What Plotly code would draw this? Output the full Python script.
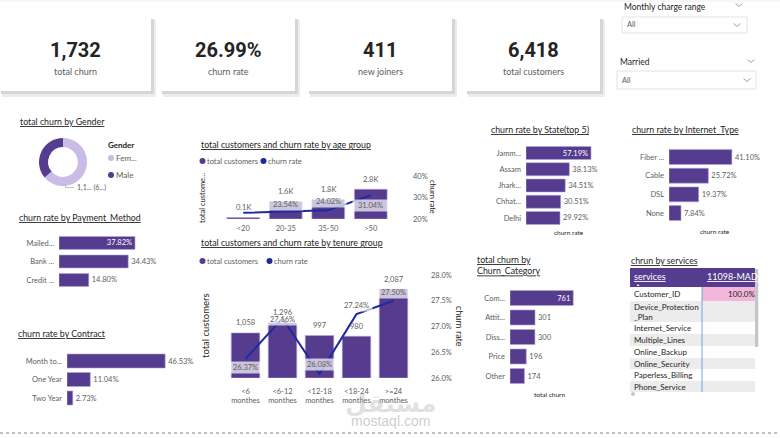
import plotly.graph_objects as go

# ---------------- data ----------------
kpi_values = ["1,732", "26.99%", "411", "6,418"]
kpi_labels = ["total churn", "churn rate", "new joiners", "total customers"]

gender_labels = ["Female", "Male"]
gender_legend = ["Fem...", "Male"]
gender_churn = [1106, 626]

age_groups = ["<20", "20-35", "35-50", ">50"]
age_customers = [140, 1640, 1840, 2798]
age_churn_rate = [22.86, 23.54, 24.02, 31.04]
age_rate_ticks = [20, 30, 40]

tenure_groups = ["<6", "<6-12", "<12-18", "<18-24", ">=24"]
tenure_tick_labels = ["<6<br>monthes", "<6-12<br>monthes", "<12-18<br>monthes",
                      "<18-24<br>monthes", ">=24<br>monthes"]
tenure_customers = [1058, 1296, 997, 980, 2087]
tenure_churn_rate = [26.37, 27.16, 26.08, 27.24, 27.50]
tenure_rate_ticks = [26.0, 26.5, 27.0, 27.5, 28.0]

pay_methods = ["Mailed...", "Bank ...", "Credit ..."]
pay_rate = [37.82, 34.43, 14.80]

contracts = ["Month to...", "One Year", "Two Year"]
contract_rate = [46.53, 11.04, 2.73]

states = ["Jamm...", "Assam", "Jhark...", "Chhat...", "Delhi"]
state_rate = [57.19, 38.13, 34.51, 30.51, 29.92]

internet_types = ["Fiber ...", "Cable", "DSL", "None"]
internet_rate = [41.10, 25.72, 19.37, 7.84]

churn_categories = ["Com...", "Attit...", "Diss...", "Price", "Other"]
churn_category_total = [761, 301, 300, 196, 174]

services = ["Customer_ID", "Device_Protection<br>_Plan", "Internet_Service", "Multiple_Lines",
            "Online_Backup", "Online_Security", "Paperless_Billing", "Phone_Service"]
service_values = ["100.0%", "", "", "", "", "", "", ""]
service_column = "11098-MAD"

# ---------------- helpers ----------------
W, H = 780, 438
def X(px): return px / W
def Y(py): return 1 - py / H

PURPLE = "#553c8f"
LAVENDER = "#c9bce6"
LINE_BLUE = "#1f2a9e"
DARK = "#252423"
GREY = "#605e5c"
FONT = "Segoe UI, Lato, Noto Sans, sans-serif"
NUM_FONT = "Roboto, sans-serif"

fig = go.Figure()
shapes, annotations, axes = [], [], {}

def rect(x0, y0, x1, y1, fill, line=None, lw=0):
    shapes.append(dict(type="rect", xref="paper", yref="paper", x0=X(x0), x1=X(x1),
                       y0=Y(y1), y1=Y(y0), fillcolor=fill,
                       line=dict(color=line or fill, width=lw), layer="below"))

def seg(pts, color, width=1, dash="solid"):
    path = "M " + " L ".join(f"{X(a)},{Y(b)}" for a, b in pts)
    shapes.append(dict(type="path", xref="paper", yref="paper", path=path,
                       line=dict(color=color, width=width, dash=dash)))

def dot(px, py, r, color):
    shapes.append(dict(type="circle", xref="paper", yref="paper", x0=X(px - r), x1=X(px + r),
                       y0=Y(py + r), y1=Y(py - r), fillcolor=color, line=dict(width=0)))

def txt(px, py, s, size=8, color=DARK, xa="left", ya="middle", family=FONT, **kw):
    annotations.append(dict(xref="paper", yref="paper", x=X(px), y=Y(py), text=s,
                            showarrow=False, xanchor=xa, yanchor=ya,
                            font=dict(size=size, color=color, family=family), **kw))

def chev(px, py, color="#a19f9d"):
    seg([(px - 3.5, py - 1.5), (px, py + 1.5), (px + 3.5, py - 1.5)], color, 1)

def ax(name, idx):
    return name if idx == 1 else f"{name}{idx}"

TITLE = 8.8

# ---------------- page decorations ----------------
seg([(0, 1), (780, 1)], "#eeeeee", 1)
seg([(0, 433), (780, 433)], "#808080", 1, "dot")

# KPI cards
card_boxes = [(0, 17, 151, 91), (161, 17, 295, 91), (308, 17, 452, 91), (466, 17, 600, 91)]
for (x0, y0, x1, y1), v, lab in zip(card_boxes, kpi_values, kpi_labels):
    rect(x0 + 2, y0 + 3, x1 + 5, y1 + 6, "#ececec")
    rect(x0 + 1, y0 + 2, x1 + 3, y1 + 3, "#d6d6d6")
    rect(x0, y0, x1, y1, "white")
    cx = (x0 + x1) / 2
    txt(cx, 50, f"<b>{v}</b>", size=20, family=NUM_FONT, xa="center")
    txt(cx, 71, lab, size=9, color=GREY, xa="center")

# slicers
txt(622, 7, "Monthly charge range", size=8.5)
chev(739, 5)
rect(622, 17, 747, 33, "white", line="#e3e3e3", lw=1)
txt(625, 25, "All", size=7.5, color=GREY)
chev(737, 25)
txt(618, 62, "Married", size=8.5)
chev(751, 61)
rect(617, 71, 756, 89, "white", line="#e3e3e3", lw=1)
txt(620, 80, "All", size=7.5, color=GREY)
chev(747, 80)

# ---------------- gender donut ----------------
txt(18, 122, "<u>total churn by Gender</u>", size=TITLE)
fig.add_trace(go.Pie(values=gender_churn, labels=gender_labels, hole=0.62, sort=False,
                     direction="clockwise", rotation=0, textinfo="none",
                     marker=dict(colors=[LAVENDER, PURPLE], line=dict(width=0)),
                     domain=dict(x=[X(39), X(87)], y=[Y(186), Y(138)]),
                     hoverinfo="skip", showlegend=False))
txt(106, 145, "<b>Gender</b>", size=8)
for lab, col, py in zip(gender_legend, [LAVENDER, PURPLE], [158, 175]):
    dot(111, py, 3, col)
    txt(114, py, lab, size=8, color=GREY)
fem_share = 100 * gender_churn[0] / sum(gender_churn)
seg([(65.5, 184), (65.5, 187.5), (74, 187.5)], "#b0b0b0", 0.8)
txt(75, 187.5, f"{gender_churn[0]:,}"[:3] + "... (" + f"{fem_share:.0f}"[:1] + "...)", size=7, color=GREY)

# ---------------- horizontal bar charts ----------------
def hbar(idx, cats, vals, xpx, ypx, xmax, fmt, inside=None, width=0.75, standoff=4):
    xa, ya = ax("x", idx), ax("y", idx)
    pos = ["inside" if i == inside else "outside" for i in range(len(vals))]
    fig.add_trace(go.Bar(x=vals, y=cats, orientation="h", xaxis=xa, yaxis=ya,
                         marker=dict(color=PURPLE, line=dict(color="#b3a5d6", width=0.6)),
                         width=width, text=[fmt(v) for v in vals], textposition=pos,
                         insidetextanchor="end", textangle=0, constraintext="none",
                         insidetextfont=dict(color="white", size=7.5, family=FONT),
                         outsidetextfont=dict(color=GREY, size=7.5, family=FONT),
                         cliponaxis=False, hoverinfo="skip", showlegend=False))
    axes[ax("xaxis", idx)] = dict(domain=[X(xpx[0]), X(xpx[1])], range=[0, xmax],
                                  visible=False, anchor=ya, fixedrange=True)
    axes[ax("yaxis", idx)] = dict(domain=[Y(ypx[1]), Y(ypx[0])], anchor=xa, type="category",
                                  autorange="reversed", showgrid=False, zeroline=False,
                                  showline=False, ticks="", ticklabelstandoff=standoff,
                                  tickfont=dict(size=7.5, color=GREY, family=FONT))

pct = lambda v: f"{v:.2f}%"
txt(17, 217, "<u>churn rate by Payment_Method</u>", size=TITLE)
hbar(1, pay_methods, pay_rate, (59, 159.5), (233.75, 289.25), 50, pct, inside=0, width=0.7)

txt(16, 333, "<u>churn rate by Contract</u>", size=TITLE)
hbar(2, contracts, contract_rate, (67, 172.5), (351.75, 407.25), 50, pct, width=0.76)

txt(489, 129, "<u>churn rate by State(top 5)</u>", size=TITLE)
hbar(3, states, state_rate, (526, 594.2), (144.9, 226.1), 60, pct, inside=0, width=0.8)
txt(569, 232, "churn rate", size=6.5, xa="center")

txt(630, 129, "<u>churn rate by Internet_Type</u>", size=TITLE)
hbar(4, internet_types, internet_rate, (669, 745.5), (147.7, 222.4), 50, pct, width=0.8)
txt(715, 231, "churn rate", size=6.5, xa="center")

txt(475, 265, "<u>total churn by</u><br><u>Churn_Category</u>", size=TITLE, align="left")
hbar(5, churn_categories, churn_category_total, (510, 576.5), (288.25, 385.75), 800,
     lambda v: f"{v}", inside=0, width=0.77)
txt(549, 394, "total churn", size=6.5, xa="center")

# ---------------- combo charts ----------------
def combo(ix, iy2, cats, bars, rates, xpx, ypx, ymax, rrange, rticks, rfmt, ticktext,
          standoff, barw, bar_lab, rate_shift, box_w, skip=(), xstand=2):
    xa, ya, ya2 = ax("x", ix), ax("y", ix), ax("y", iy2)
    fig.add_trace(go.Bar(x=cats, y=bars, xaxis=xa, yaxis=ya, width=barw,
                         marker=dict(color=PURPLE, line=dict(color="#b3a5d6", width=0.6)),
                         hoverinfo="skip", showlegend=False))
    fig.add_trace(go.Scatter(x=cats, y=rates, xaxis=xa, yaxis=ya2, mode="lines",
                             line=dict(color=LINE_BLUE, width=2), hoverinfo="skip",
                             showlegend=False, cliponaxis=False))
    axes[ax("xaxis", ix)] = dict(domain=[X(xpx[0]), X(xpx[1])], anchor=ya, type="category",
                                 showgrid=False, showline=False, zeroline=False, ticks="",
                                 tickvals=cats, ticktext=ticktext, ticklabelstandoff=xstand,
                                 tickfont=dict(size=7.5, color=GREY, family=FONT))
    axes[ax("yaxis", ix)] = dict(domain=[Y(ypx[1]), Y(ypx[0])], anchor=xa, range=[0, ymax],
                                 visible=False)
    axes[ax("yaxis", iy2)] = dict(overlaying=ya, side="right", anchor=xa, range=rrange,
                                  showgrid=False, zeroline=False, showline=False, ticks="",
                                  tickvals=rticks, ticktext=[rfmt(t) for t in rticks],
                                  ticklabelstandoff=standoff,
                                  tickfont=dict(size=7.5, color=GREY, family=FONT))
    for i, (c, r) in enumerate(zip(cats, rates)):
        if i in skip:
            continue
        annotations.append(dict(xref=xa, yref=ya2, x=c, y=r, text=f"{r:.2f}%", showarrow=False,
                                yshift=rate_shift[i], width=box_w, height=9,
                                bgcolor="rgba(255,255,255,0.7)",
                                font=dict(size=7.5, color=GREY, family=FONT)))
    for c, b in zip(cats, bars):
        annotations.append(dict(xref=xa, yref=ya, x=c, y=b, text=bar_lab(b), showarrow=False,
                                yshift=10, font=dict(size=7.5, color=GREY, family=FONT)))

# age group
txt(199, 144, "<u>total customers and churn rate by age group</u>", size=TITLE)
dot(202.5, 161, 3, PURPLE)
txt(205, 161, "total customers", size=7.5, color=GREY)
dot(263.5, 161, 3, LINE_BLUE)
txt(266, 161, "churn rate", size=7.5, color=GREY)
txt(202, 198, "total custome...", size=7.5, textangle=-90, xa="center")
txt(432, 197, "churn rate", size=7.5, textangle=90, xa="center")
combo(6, 7, age_groups, age_customers, age_churn_rate, (222, 392), (176, 219), 4050,
      [20, 40], age_rate_ticks, lambda t: f"{t:.0f}%", age_groups, 20, 0.77,
      lambda b: f"{b/1000:.1f}K", [0, 7, 9, -10], 33, skip=(0,), xstand=3)

# tenure group
txt(199, 242, "<u>total customers and churn rate by tenure group</u>", size=TITLE)
dot(202.5, 261, 3, PURPLE)
txt(205, 261, "total customers", size=7.5, color=GREY)
dot(269.5, 261, 3, LINE_BLUE)
txt(272, 261, "churn rate", size=7.5, color=GREY)
txt(205, 326, "total customers", size=9.5, textangle=-90, xa="center")
txt(460, 326, "churn rate", size=9, textangle=90, xa="center")
combo(8, 9, tenure_groups, tenure_customers, tenure_churn_rate, (227, 412), (275, 378), 2416,
      [26, 28], tenure_rate_ticks, lambda t: f"{t:.1f}%", tenure_tick_labels, 18, 0.77,
      lambda b: f"{b:,}", [-9, -1, 9, 9, 8], 29, xstand=7)

# ---------------- services table ----------------
txt(629, 260, "<u>chrun by services</u>", size=TITLE)
rect(630, 268, 755, 287, PURPLE)
txt(632, 276, "<u>services</u>", size=9, color="white")
txt(634, 284, "▲", size=4, color="white")
txt(705, 276, f"<u>{service_column}</u>", size=9, color="white")
row_edges = [287, 301, 322, 334, 346, 358, 369, 381, 392]
for i, (s, v) in enumerate(zip(services, service_values)):
    y0, y1 = row_edges[i], row_edges[i + 1]
    bg = "white" if i % 2 == 0 else "#ececec"
    rect(630, y0, 702, y1, bg)
    rect(702, y0, 755, y1, "#f2b6da" if v else bg)
    txt(632, (y0 + y1) / 2, s, size=8, color=DARK, align="left")
    if v:
        txt(757, (y0 + y1) / 2, v, size=8, color=DARK, xa="right")
seg([(702, 287), (702, 392)], "#6ea6e0", 1)
rect(755, 269, 758.5, 347, "#c6c6c6")
dot(633, 394, 2, "#c6c6c6")
rect(758.5, 260, 780, 400, "white")

# ---------------- watermark ----------------
txt(390, 403, "<b>مستقل</b>", size=25, color="rgba(170,170,170,0.35)", xa="center",
    family="DejaVu Sans")
txt(390, 421, "mostaql.com", size=14, color="rgba(170,170,170,0.6)", xa="center",
    family="Liberation Sans, Arial")

fig.update_layout(
    template="none", width=W, height=H, autosize=False,
    margin=dict(l=0, r=0, t=0, b=0, pad=0),
    paper_bgcolor="white", plot_bgcolor="rgba(0,0,0,0)",
    showlegend=False, font=dict(family=FONT, color=DARK),
    xaxis=axes.pop("xaxis"), yaxis=axes.pop("yaxis"),
    shapes=shapes, annotations=annotations,
)
fig.update_layout(**axes)
fig.write_html("out.html")
